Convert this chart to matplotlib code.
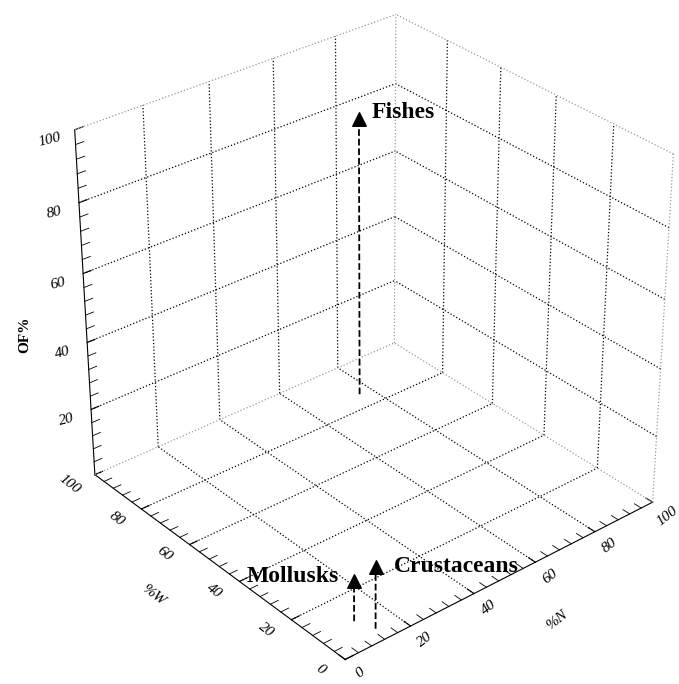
import matplotlib
matplotlib.use("Agg")
import matplotlib.pyplot as plt
from matplotlib.ticker import MultipleLocator
from mpl_toolkits.mplot3d import proj3d

# prey groups: %N (numeric), %W (weight), frequency of occurrence
prey = ["Fishes", "Mollusks", "Crustaceans"]
pct_n = [76, 11, 13]
pct_w = [86, 10, 4.5]
pct_fo = [83, 12, 18]

ticks = [0, 20, 40, 60, 80, 100]
zticks = [20, 40, 60, 80, 100]

plt.rcParams['font.family'] = ['Liberation Serif', 'DejaVu Serif']

fig = plt.figure(figsize=(6.79, 6.84), dpi=100)
ax = fig.add_axes([0.034, 0.017, 1, 1], projection='3d')
ax.set_proj_type('persp', focal_length=0.8)
ax.view_init(elev=31, azim=-130)
ax.set_box_aspect((1, 1, 0.985), zoom=1.01)

ax.set_xlim(0, 100)
ax.set_ylim(0, 100)
ax.set_zlim(0, 100)
ax.set_xticks(ticks)
ax.set_yticks(ticks)
ax.set_zticks(zticks)
ax.set_xticklabels([])
ax.set_yticklabels([])
ax.set_zticklabels([])
ax.grid(False)
for a in (ax.xaxis, ax.yaxis, ax.zaxis):
    a.set_minor_locator(MultipleLocator(4))
    a.pane.set_visible(False)
    # ticks point into the box, like the original
    a._axinfo['tick']['inward_factor'] = 0.0
    a._axinfo['tick']['outward_factor'] = 0.3
    a._axinfo['axisline']['linewidth'] = 1.2

# dotted grid on floor and the two back walls
lo, hi = ticks[0], ticks[-1]
grid_kw = dict(color='black', linestyle=':', linewidth=0.9)
for t in ticks[1:-1]:
    ax.plot([t, t], [lo, hi], [lo, lo], **grid_kw)        # floor, const N
    ax.plot([lo, hi], [t, t], [lo, lo], **grid_kw)        # floor, const W
    ax.plot([t, t], [hi, hi], [lo, hi], **grid_kw)        # back wall W=100
    ax.plot([hi, hi], [t, t], [lo, hi], **grid_kw)        # back wall N=100
for t in zticks[:-1]:
    ax.plot([lo, hi], [hi, hi], [t, t], **grid_kw)
    ax.plot([hi, hi], [lo, hi], [t, t], **grid_kw)

# light grey outer edges of the box
edge_kw = dict(color='#9a9a9a', linestyle=':', linewidth=0.9)
ax.plot([lo, hi], [hi, hi], [hi, hi], **edge_kw)
ax.plot([hi, hi], [lo, hi], [hi, hi], **edge_kw)
ax.plot([hi, hi], [hi, hi], [lo, hi], **edge_kw)
ax.plot([hi, hi], [lo, lo], [lo, hi], **edge_kw)
ax.plot([lo, hi], [hi, hi], [lo, lo], **edge_kw)
ax.plot([hi, hi], [lo, hi], [lo, lo], **edge_kw)

M = ax.get_proj()


def put(x, y, z, s, dx, dy, **kw):
    x2, y2, _ = proj3d.proj_transform(x, y, z, M)
    return ax.annotate(s, (x2, y2), xytext=(dx, dy), textcoords='offset points', **kw)


# tick labels, placed beside the axis lines
tick_kw = dict(fontsize=11, fontstyle='italic', ha='center', va='center')
for t in ticks:
    put(t, lo, lo, str(t), 10.5, -10, rotation=38, **tick_kw)     # %N axis
    put(lo, t, lo, str(t), -18, -7, rotation=-38, **tick_kw)      # %W axis
for t in zticks:
    put(lo, hi, t, str(t), -18, -7.5, rotation=14, **tick_kw)     # OF% axis

# axis titles placed by hand (figure pixels from the original)
fig.text(557 / 679, 1 - 620 / 684, '%N', fontsize=11, fontstyle='italic',
         rotation=38, ha='center', va='center')
fig.text(153 / 679, 1 - 595 / 684, '%W', fontsize=11, fontstyle='italic',
         rotation=-38, ha='center', va='center')
fig.text(25 / 679, 1 - 335 / 684, 'OF%', fontsize=11, fontweight='bold',
         rotation=90, ha='center', va='center')

for n, w, f in zip(pct_n, pct_w, pct_fo):
    ax.plot([n, n], [w, w], [0, f], color='black', linestyle='--', linewidth=1.3)
ax.scatter(pct_n, pct_w, pct_fo, marker='^', s=95, color='black', depthshade=False)

# name labels beside the markers (offsets in points)
label_dx = [9, -11, 13]
label_dy = [1, -1, -3]
for name, n, w, f, dx, dy in zip(prey, pct_n, pct_w, pct_fo, label_dx, label_dy):
    put(n, w, f, name, dx, dy, ha='left' if dx > 0 else 'right', va='baseline',
        fontsize=17, fontweight='bold')

fig.savefig('out.png', dpi=100)
